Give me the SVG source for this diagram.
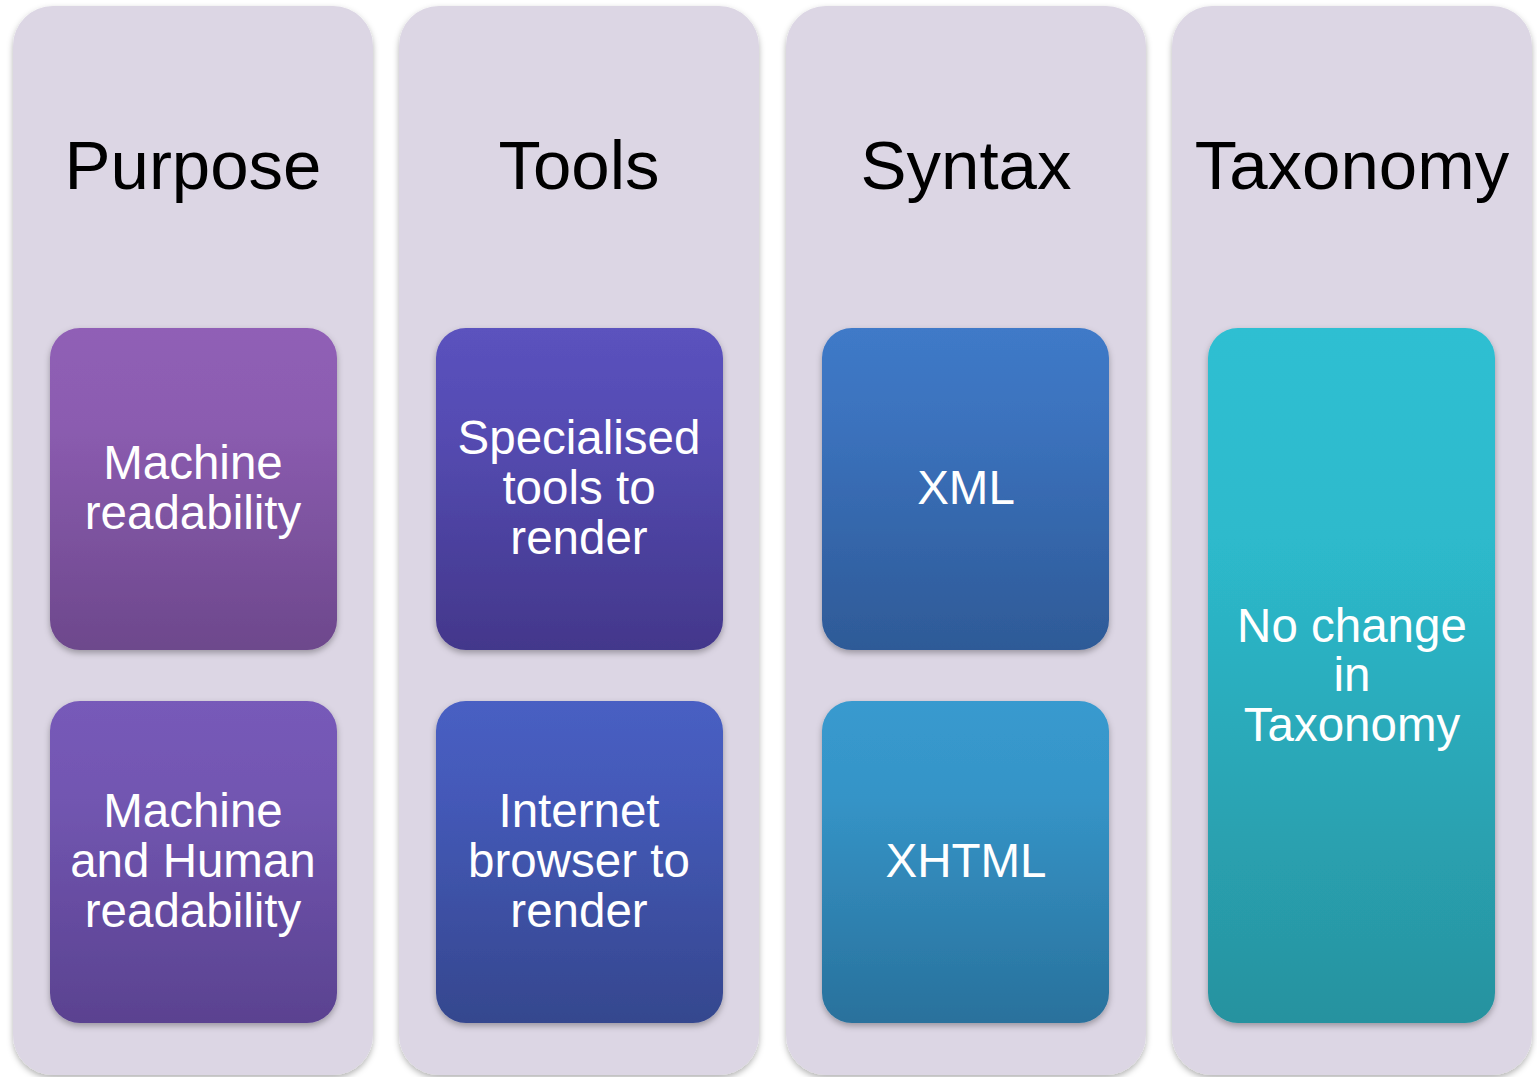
<svg xmlns="http://www.w3.org/2000/svg" width="1537" height="1077" viewBox="0 0 1537 1077">
<defs>
<filter id="sh" x="-10%" y="-10%" width="120%" height="120%"><feGaussianBlur in="SourceAlpha" stdDeviation="3"/><feOffset dx="0" dy="3" result="b"/><feFlood flood-color="#000" flood-opacity="0.3"/><feComposite in2="b" operator="in"/><feMerge><feMergeNode/><feMergeNode in="SourceGraphic"/></feMerge></filter>
<linearGradient id="g1" x1="0" y1="0" x2="0" y2="1"><stop offset="0" stop-color="#905FB6"/><stop offset="0.3" stop-color="#8B5CB0"/><stop offset="1" stop-color="#6D488C"/></linearGradient>
<linearGradient id="g2" x1="0" y1="0" x2="0" y2="1"><stop offset="0" stop-color="#775AB9"/><stop offset="0.3" stop-color="#7256B1"/><stop offset="1" stop-color="#5A4290"/></linearGradient>
<linearGradient id="g3" x1="0" y1="0" x2="0" y2="1"><stop offset="0" stop-color="#5B52BE"/><stop offset="0.3" stop-color="#554CB3"/><stop offset="1" stop-color="#43378B"/></linearGradient>
<linearGradient id="g4" x1="0" y1="0" x2="0" y2="1"><stop offset="0" stop-color="#485FC3"/><stop offset="0.3" stop-color="#4459B8"/><stop offset="1" stop-color="#35478E"/></linearGradient>
<linearGradient id="g5" x1="0" y1="0" x2="0" y2="1"><stop offset="0" stop-color="#3F7AC8"/><stop offset="0.3" stop-color="#3B72BD"/><stop offset="1" stop-color="#2E5A97"/></linearGradient>
<linearGradient id="g6" x1="0" y1="0" x2="0" y2="1"><stop offset="0" stop-color="#389ACF"/><stop offset="0.3" stop-color="#3594C7"/><stop offset="1" stop-color="#29719C"/></linearGradient>
<linearGradient id="g7" x1="0" y1="0" x2="0" y2="1"><stop offset="0" stop-color="#2EBFD2"/><stop offset="0.3" stop-color="#2DBACC"/><stop offset="1" stop-color="#27929F"/></linearGradient>
</defs>
<style>
.col{fill:#DCD6E4;filter:url(#sh)}
.box{filter:url(#sh)}
.t{font-family:"Liberation Sans",Arial,sans-serif;font-size:69px;fill:#000;text-anchor:middle}
.w{font-family:"Liberation Sans",Arial,sans-serif;font-size:47.5px;fill:#fff;text-anchor:middle}
</style>
<rect width="1537" height="1077" fill="#fff"/>
<g id="col-purpose">
<rect class="col" x="13" y="6" width="360" height="1069" rx="40"/>
<text class="t" x="193" y="189">Purpose</text>
</g>
<g id="col-tools">
<rect class="col" x="399" y="6" width="360" height="1069" rx="40"/>
<text class="t" x="579" y="189">Tools</text>
</g>
<g id="col-syntax">
<rect class="col" x="786" y="6" width="360" height="1069" rx="40"/>
<text class="t" x="966" y="189">Syntax</text>
</g>
<g id="col-taxonomy">
<rect class="col" x="1172" y="6" width="360" height="1069" rx="40"/>
<text class="t" x="1352" y="189">Taxonomy</text>
</g>
<g id="n-machine">
<rect class="box" x="50" y="328" width="287" height="322" rx="30" fill="url(#g1)"/>
<text class="w" x="193" y="479">Machine</text>
<text class="w" x="193" y="529">readability</text>
</g>
<g id="n-machine-human">
<rect class="box" x="50" y="701" width="287" height="322" rx="30" fill="url(#g2)"/>
<text class="w" x="193" y="827">Machine</text>
<text class="w" x="193" y="877">and Human</text>
<text class="w" x="193" y="927">readability</text>
</g>
<g id="n-specialised">
<rect class="box" x="436" y="328" width="287" height="322" rx="30" fill="url(#g3)"/>
<text class="w" x="579" y="454">Specialised</text>
<text class="w" x="579" y="504">tools to</text>
<text class="w" x="579" y="554">render</text>
</g>
<g id="n-browser">
<rect class="box" x="436" y="701" width="287" height="322" rx="30" fill="url(#g4)"/>
<text class="w" x="579" y="827">Internet</text>
<text class="w" x="579" y="877">browser to</text>
<text class="w" x="579" y="927">render</text>
</g>
<g id="n-xml">
<rect class="box" x="822" y="328" width="287" height="322" rx="30" fill="url(#g5)"/>
<text class="w" x="966" y="504">XML</text>
</g>
<g id="n-xhtml">
<rect class="box" x="822" y="701" width="287" height="322" rx="30" fill="url(#g6)"/>
<text class="w" x="966" y="877">XHTML</text>
</g>
<g id="n-nochange">
<rect class="box" x="1208" y="328" width="287" height="695" rx="30" fill="url(#g7)"/>
<text class="w" x="1352" y="642">No change</text>
<text class="w" x="1352" y="691">in</text>
<text class="w" x="1352" y="741">Taxonomy</text>
</g>
<g id="connectors"/>
</svg>
